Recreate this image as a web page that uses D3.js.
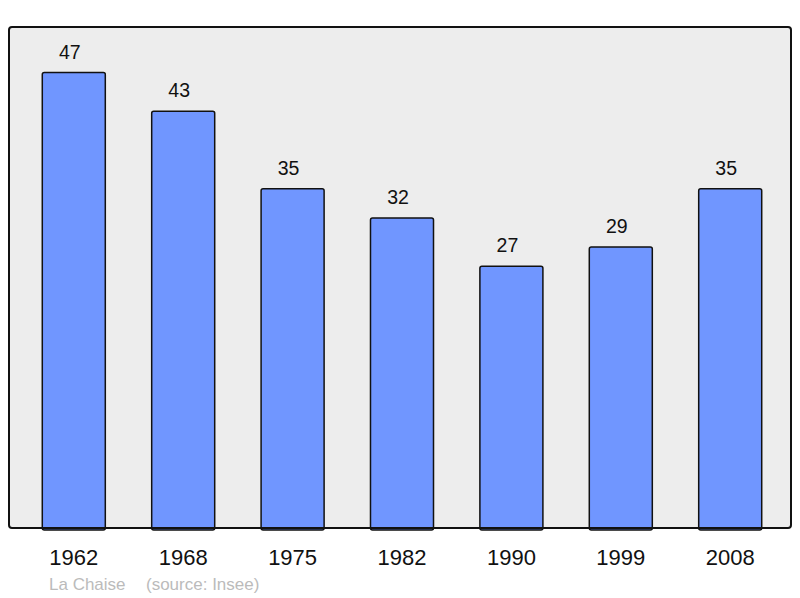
<!DOCTYPE html>
<html><head><meta charset="utf-8">
<script src="https://cdn.jsdelivr.net/npm/d3@7"></script>
<style>body{margin:0;background:#fff}svg{display:block}</style>
</head><body>
<script>
const years = ["1962","1968","1975","1982","1990","1999","2008"];
const population = [47,43,35,32,27,29,35];
const caption = ["La Chaise", "(source: Insee)"];

const W = 800, H = 598;
const frame = {x0: 9, y0: 27, x1: 791, y1: 528};
const svg = d3.select("body").append("svg").attr("width", W).attr("height", H);

svg.append("rect").attr("x", frame.x0).attr("y", frame.y0)
  .attr("width", frame.x1 - frame.x0).attr("height", frame.y1 - frame.y0)
  .attr("rx", 3).attr("fill", "#ededed").attr("stroke", "none");

const x = d3.scaleBand().domain(years).range([11, 793]).paddingInner(0.424).paddingOuter(0.286);
const y = d3.scaleLinear().domain([0, 47 * 1.1]).range([frame.y1, frame.y0]);

svg.append("g").selectAll("rect").data(population).join("rect")
  .attr("x", (d, i) => x(years[i]))
  .attr("y", d => y(d))
  .attr("width", x.bandwidth())
  .attr("height", d => y(0) - y(d) + 2)
  .attr("rx", 2)
  .attr("fill", "#7096ff").attr("stroke", "#111").attr("stroke-width", 1.5);

svg.append("g").selectAll("text").data(population).join("text")
  .attr("x", (d, i) => x(years[i]) + x.bandwidth() / 2 - 4)
  .attr("y", d => y(d) - 14)
  .attr("text-anchor", "middle")
  .attr("font-family", "Liberation Sans, Arial, sans-serif")
  .attr("font-size", 19.5).attr("fill", "#111")
  .text(d => d);

svg.append("rect").attr("x", frame.x0).attr("y", frame.y0)
  .attr("width", frame.x1 - frame.x0).attr("height", frame.y1 - frame.y0)
  .attr("rx", 3).attr("fill", "none").attr("stroke", "#111").attr("stroke-width", 2);

const ax = svg.append("g").attr("transform", `translate(0,${frame.y1})`)
  .call(d3.axisBottom(x).tickSize(0).tickPadding(0));
ax.select(".domain").remove();
ax.selectAll("text").attr("dy", null).attr("y", 37)
  .attr("font-family", "Liberation Sans, Arial, sans-serif")
  .attr("font-size", 22).attr("fill", "#111");

svg.append("text").attr("x", 49).attr("y", 590)
  .attr("font-family", "Liberation Sans, Arial, sans-serif")
  .attr("font-size", 17).attr("fill", "#bbb")
  .text(caption[0]);
svg.append("text").attr("x", 146).attr("y", 590)
  .attr("font-family", "Liberation Sans, Arial, sans-serif")
  .attr("font-size", 17).attr("fill", "#bbb")
  .text(caption[1]);
</script>
</body></html>
